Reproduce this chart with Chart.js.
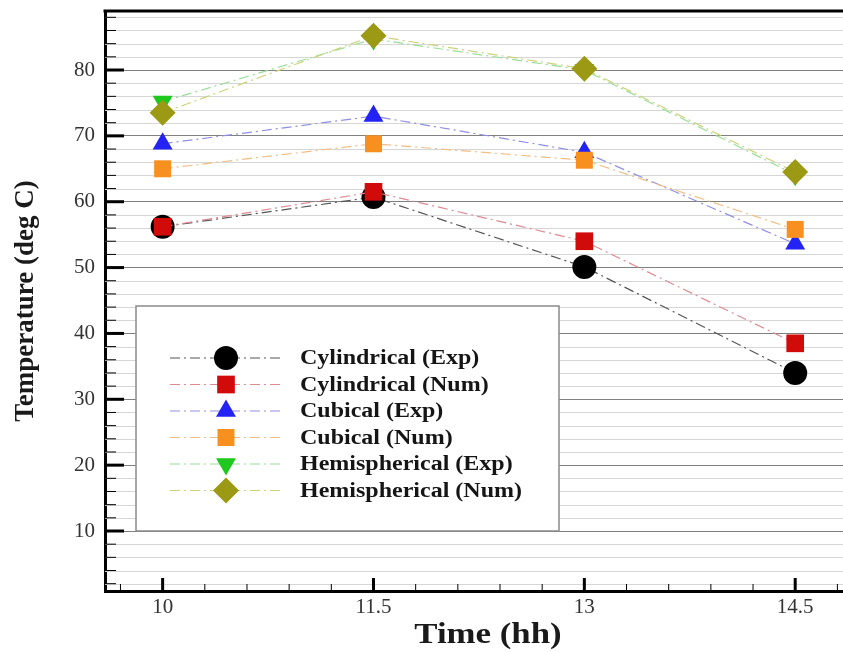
<!DOCTYPE html>
<html lang="en">
<head>
  <meta charset="UTF-8">
  <title>Temperature vs Time</title>
  <script src="https://cdn.jsdelivr.net/npm/chart.js"></script>
  <style>
    body {
      margin: 0;
      background: #fff;
    }
    canvas {
      display: block;
    }
  </style>
</head>
<body>
  <canvas id="tempChart" width="843" height="652"></canvas>

  <script>
    // data
    const times = [10, 11.5, 13, 14.5];
    const seriesNames = [
      'Cylindrical (Exp)', 'Cylindrical (Num)',
      'Cubical (Exp)', 'Cubical (Num)',
      'Hemispherical (Exp)', 'Hemispherical (Num)'
    ];
    const cylindricalExp = [56.2, 60.7, 50.1, 34.0];
    const cylindricalNum = [56.2, 61.5, 54.0, 38.5];
    const cubicalExp = [68.8, 73.0, 67.5, 53.6];
    const cubicalNum = [65.0, 68.8, 66.3, 55.8];
    const hemisphericalExp = [75.2, 84.7, 80.0, 64.1];
    const hemisphericalNum = [73.5, 85.2, 80.2, 64.5];
    const xTicks = [10, 11.5, 13, 14.5];
    const yTicks = [10, 20, 30, 40, 50, 60, 70, 80];
    const xTitle = 'Time (hh)';
    const yTitle = 'Temperature (deg C)';

    const minorXStep = 0.3;
    const minorYStep = 2;

    const serif = '"Liberation Serif", "Times New Roman", serif';
    const stretch = 1.2; // the original lettering is a bit wide

    const styles = [
      { point: 'circle',   radius: 12,   rot: 0,   fill: '#000000', line: '#555555' },
      { point: 'rect',     radius: 12.5, rot: 0,   fill: '#d10a0a', line: '#e08a92' },
      { point: 'triangle', radius: 11.5, rot: 0,   fill: '#2323f5', line: '#8f8fe6' },
      { point: 'rect',     radius: 12,   rot: 0,   fill: '#f7901e', line: '#f3bd86' },
      { point: 'triangle', radius: 11.5, rot: 180, fill: '#1ec81e', line: '#9ade9a' },
      { point: 'rectRot',  radius: 13,   rot: 0,   fill: '#9c9a14', line: '#cdd27a' }
    ];
    const seriesValues = [cylindricalExp, cylindricalNum, cubicalExp, cubicalNum, hemisphericalExp, hemisphericalNum];

    const datasets = seriesNames.map((name, i) => ({
      label: name,
      data: times.map((t, j) => ({ x: t, y: seriesValues[i][j] })),
      borderColor: styles[i].line,
      borderWidth: 1.2,
      borderDash: [10, 4, 2, 4],
      backgroundColor: styles[i].fill,
      pointStyle: styles[i].point,
      pointRadius: styles[i].radius,
      pointRotation: styles[i].rot,
      pointBorderWidth: 0,
      pointBackgroundColor: styles[i].fill,
      tension: 0,
      order: seriesNames.length - i
    }));

    // minor grid, inward ticks, top frame, x title and the boxed legend
    const framePlugin = {
      id: 'frame',
      beforeDatasetsDraw(chart) {
        const { ctx, chartArea: a, scales: { y } } = chart;
        ctx.save();
        ctx.strokeStyle = '#d6d6d6';
        ctx.lineWidth = 1;
        for (let v = minorYStep; v < y.max; v += minorYStep) {
          if (v % 10 === 0) continue;
          const py = Math.round(y.getPixelForValue(v)) + 0.5;
          ctx.beginPath();
          ctx.moveTo(a.left, py);
          ctx.lineTo(a.right, py);
          ctx.stroke();
        }
        ctx.restore();
      },
      afterDatasetsDraw(chart) {
        const { ctx } = chart;
        const box = { left: 136, top: 306, right: 559, bottom: 531 };
        ctx.save();
        ctx.fillStyle = '#fff';
        ctx.fillRect(box.left, box.top, box.right - box.left, box.bottom - box.top);
        ctx.strokeStyle = '#8a8a8a';
        ctx.lineWidth = 1.5;
        ctx.strokeRect(box.left, box.top, box.right - box.left, box.bottom - box.top);

        chart.data.datasets.forEach((ds, i) => {
          const ry = 358 + i * 26.5;
          ctx.save();
          ctx.strokeStyle = ds.borderColor;
          ctx.lineWidth = ds.borderWidth;
          ctx.setLineDash(ds.borderDash);
          ctx.beginPath();
          ctx.moveTo(170, ry);
          ctx.lineTo(280, ry);
          ctx.stroke();
          ctx.restore();
          ctx.fillStyle = ds.pointBackgroundColor;
          ctx.strokeStyle = ds.pointBackgroundColor;
          Chart.helpers.drawPoint(ctx, {
            pointStyle: ds.pointStyle,
            radius: ds.pointRadius,
            rotation: ds.pointRotation,
            borderWidth: 0
          }, 226, ry);
          ctx.save();
          ctx.translate(300, ry + 1);
          ctx.scale(stretch, 1);
          ctx.fillStyle = '#151515';
          ctx.font = 'bold 20px ' + serif;
          ctx.textAlign = 'left';
          ctx.textBaseline = 'middle';
          ctx.fillText(ds.label, 0, 0);
          ctx.restore();
        });
        ctx.restore();
      },
      afterDraw(chart) {
        const { ctx, chartArea: a, scales: { x, y } } = chart;
        ctx.save();
        ctx.strokeStyle = '#000';
        // top frame
        ctx.lineWidth = 3;
        ctx.beginPath();
        ctx.moveTo(a.left - 1.5, a.top);
        ctx.lineTo(a.right, a.top);
        ctx.stroke();
        // y ticks pointing in
        for (let v = minorYStep; v < y.max; v += minorYStep) {
          const py = y.getPixelForValue(v);
          const major = v % 10 === 0;
          ctx.lineWidth = major ? 3 : 1;
          ctx.beginPath();
          ctx.moveTo(a.left, py);
          ctx.lineTo(a.left + (major ? 19 : 11), py);
          ctx.stroke();
        }
        // x ticks pointing in
        for (let k = 0; ; k++) {
          const v = Math.round((xTicks[0] - minorXStep + k * minorXStep) * 100) / 100;
          if (v > x.max) break;
          if (v < x.min) continue;
          const px = x.getPixelForValue(v);
          const major = xTicks.includes(v);
          ctx.lineWidth = major ? 3 : 1;
          ctx.beginPath();
          ctx.moveTo(px, a.bottom);
          ctx.lineTo(px, a.bottom - (major ? 13 : 7));
          ctx.stroke();
        }
        // x axis title
        ctx.translate(488, 643);
        ctx.scale(stretch, 1);
        ctx.fillStyle = '#1a1a1a';
        ctx.font = 'bold 29px ' + serif;
        ctx.textAlign = 'center';
        ctx.textBaseline = 'alphabetic';
        ctx.fillText(xTitle, 0, 0);
        ctx.restore();
      }
    };

    const ctx = document.getElementById('tempChart').getContext('2d');
    const tempChart = new Chart(ctx, {
      type: 'line',
      data: { datasets },
      options: {
        responsive: false,
        animation: false,
        layout: { autoPadding: false, padding: { top: 11, right: 0, left: 0, bottom: 0 } },
        plugins: {
          legend: { display: false },
          tooltip: { enabled: false }
        },
        scales: {
          x: {
            type: 'linear',
            min: 9.59,
            max: 14.84,
            afterBuildTicks: s => { s.ticks = xTicks.map(v => ({ value: v })); },
            afterFit: s => { s.height = 61; s.paddingLeft = 0; s.paddingRight = 0; },
            grid: { drawOnChartArea: false, drawTicks: false },
            border: { color: '#000', width: 3 },
            ticks: {
              padding: 4,
              color: '#333',
              font: { family: serif, size: 21 },
              callback: v => String(v)
            }
          },
          y: {
            min: 0.89,
            max: 88.96,
            afterBuildTicks: s => { s.ticks = yTicks.map(v => ({ value: v })); },
            afterFit: s => { s.width = 105; s.paddingTop = 0; s.paddingBottom = 0; },
            grid: { color: '#808080', lineWidth: 1, drawTicks: false },
            border: { color: '#000', width: 3 },
            ticks: {
              padding: 10,
              color: '#333',
              font: { family: serif, size: 21 },
              callback: v => String(v)
            },
            title: {
              display: true,
              text: yTitle,
              color: '#1a1a1a',
              font: { family: serif, size: 27, weight: 'bold' },
              padding: { top: 10, bottom: 0 }
            }
          }
        }
      },
      plugins: [framePlugin]
    });
  </script>
</body>
</html>
